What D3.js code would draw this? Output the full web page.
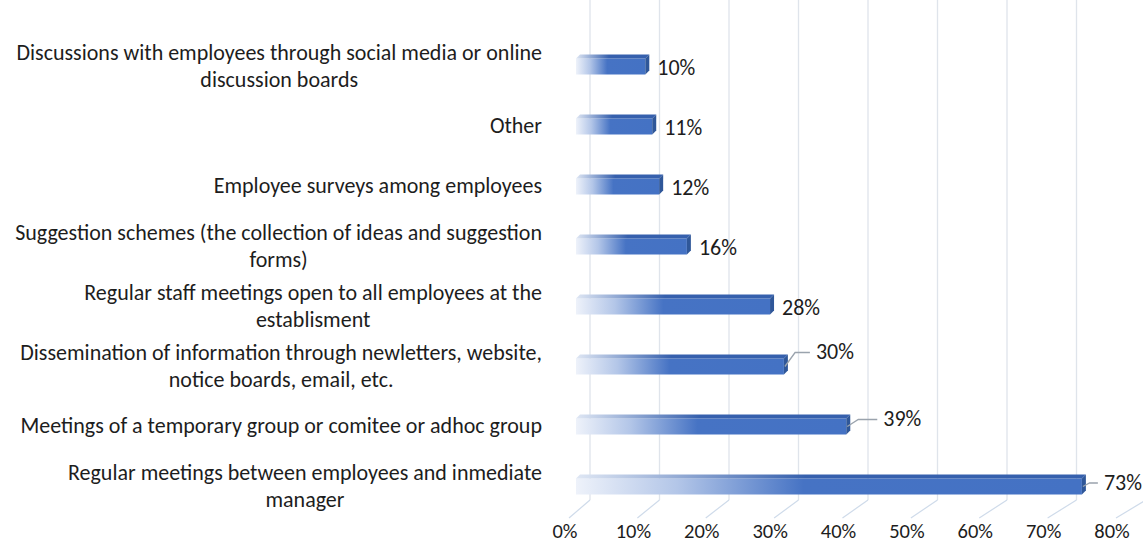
<!DOCTYPE html>
<html>
<head>
<meta charset="utf-8">
<script src="https://cdn.jsdelivr.net/npm/d3@7"></script>
<style>
  html, body { margin: 0; padding: 0; background: #fff; }
  svg { display: block; }
  text { font-family: Calibri, Carlito, Lato, sans-serif; fill: #1d1d1d; }
</style>
</head>
<body>
<svg id="chart"></svg>
<script>
// data, top to bottom as in the chart
const categories = [
  "Discussions with employees through social media or online|discussion boards",
  "Other",
  "Employee surveys among employees",
  "Suggestion schemes (the collection of ideas and suggestion|forms)",
  "Regular staff meetings open to all employees at the|establisment",
  "Dissemination of information through newletters, website,|notice boards, email, etc.",
  "Meetings of a temporary group or comitee or adhoc group",
  "Regular meetings between employees and inmediate|manager"
];
const values = [0.10, 0.11, 0.12, 0.16, 0.28, 0.30, 0.39, 0.73];
const ticks = [0, 0.1, 0.2, 0.3, 0.4, 0.5, 0.6, 0.7, 0.8];

// labels that were dragged off the bar end in the original (dx from bar end, dy of text middle)
const movedLabels = { 5: [32, -12], 6: [37, -5], 7: [22, -1.5] };

const width = 1143, height = 546;
const depth = 4;            // oblique 3d offset
const floorBack = 500, floorFront = 518;
const catSize = 22, valSize = 22, tickSize = 20.5;

const svg = d3.select("#chart").attr("width", width).attr("height", height);

const y = d3.scalePoint().domain(d3.range(categories.length)).range([64.5, 484.5]);
const xBar = d3.scaleLinear().domain([0, 0.8]).range([576, 1130.4]);
const xBack = d3.scaleLinear().domain([0, 0.8]).range([590, 1146]);
const xFront = d3.scaleLinear().domain([0, 0.8]).range([565, 1112]);

const defs = svg.append("defs");
const g1 = defs.append("linearGradient").attr("id", "front");
g1.append("stop").attr("offset", 0).attr("stop-color", "#eef2fa");
g1.append("stop").attr("offset", 0.2).attr("stop-color", "#b3c6e8");
g1.append("stop").attr("offset", 0.45).attr("stop-color", "#4673c4");
g1.append("stop").attr("offset", 1).attr("stop-color", "#4472c4");
const g2 = defs.append("linearGradient").attr("id", "top");
g2.append("stop").attr("offset", 0).attr("stop-color", "#dfe7f4");
g2.append("stop").attr("offset", 0.45).attr("stop-color", "#3660ad");
g2.append("stop").attr("offset", 1).attr("stop-color", "#3660ad");

// back wall gridlines
svg.append("g")
  .selectAll("line")
  .data(ticks)
  .join("line")
  .attr("x1", d => xBack(d)).attr("x2", d => xBack(d))
  .attr("y1", 0).attr("y2", floorBack)
  .attr("stroke", "#dfe4eb")
  .attr("stroke-width", 1.3);

// floor lines
svg.append("g")
  .selectAll("line")
  .data(ticks)
  .join("line")
  .attr("x1", d => xBack(d)).attr("y1", floorBack)
  .attr("x2", d => xFront(d) + 4).attr("y2", floorFront)
  .attr("stroke", "#cfdbea")
  .attr("stroke-width", 1.2);

// bars
const bars = svg.append("g")
  .selectAll("g")
  .data(values)
  .join("g");

bars.append("rect")
  .attr("x", xBar(0))
  .attr("y", (d, i) => y(i) - 6)
  .attr("width", d => xBar(d) - xBar(0))
  .attr("height", 16)
  .attr("fill", "url(#front)");

bars.append("path")
  .attr("fill", "url(#top)")
  .attr("d", (d, i) => {
    const x0 = xBar(0), x1 = xBar(d), t = y(i) - 6;
    return `M${x0},${t}L${x0 + depth},${t - depth}L${x1 + depth},${t - depth}L${x1},${t}Z`;
  });

bars.append("path")
  .attr("fill", "#2f5799")
  .attr("d", (d, i) => {
    const x1 = xBar(d), t = y(i) - 6;
    return `M${x1},${t}L${x1 + depth},${t - depth}L${x1 + depth},${t + 16 - depth}L${x1},${t + 16}Z`;
  });

// value labels
const capMid = 6.8;
bars.each(function(d, i) {
  const g = d3.select(this);
  const moved = movedLabels[i];
  const xe = xBar(d);
  const dx = moved ? moved[0] : 12;
  const dy = moved ? moved[1] : 3.5;
  const tx = xe + dx, ty = y(i) + dy;
  if (moved) {
    g.append("path")
      .attr("fill", "none")
      .attr("stroke", "#9aa3ad")
      .attr("stroke-width", 1.3)
      .attr("d", `M${xe + 1},${y(i) + 2}L${xe + Math.min(12, dx * 0.35)},${ty}L${tx - 6},${ty}`);
  }
  g.append("text")
    .attr("x", tx)
    .attr("y", ty + capMid)
    .attr("font-size", valSize)
    .text(d3.format(".0%")(d));
});

// category labels: block right aligned, lines centred in the block
const lineH = 27.5;
const catG = svg.append("g");
categories.forEach((c, i) => {
  const lines = c.split("|");
  const t = catG.append("text").attr("font-size", catSize).attr("text-anchor", "middle");
  const spans = lines.map((l, k) => t.append("tspan")
    .attr("y", y(i) + 2 + capMid - (lines.length - 1) * lineH / 2 + k * lineH)
    .text(l));
  const w = d3.max(spans, s => s.node().getComputedTextLength());
  spans.forEach(s => s.attr("x", 542 - w / 2));
});

// x axis labels on the front edge of the floor
svg.append("g")
  .selectAll("text")
  .data(ticks)
  .join("text")
  .attr("x", d => xFront(d))
  .attr("y", 538)
  .attr("text-anchor", "middle")
  .attr("font-size", tickSize)
  .text(d3.format(".0%"));
</script>
</body>
</html>
